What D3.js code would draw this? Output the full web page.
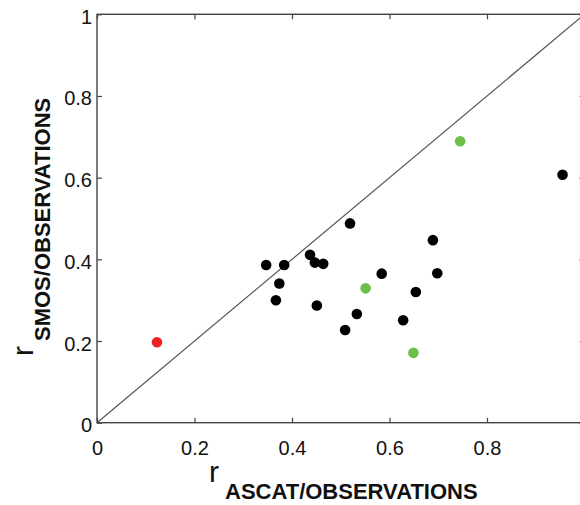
<!DOCTYPE html>
<html>
<head>
<meta charset="utf-8">
<script src="https://cdn.jsdelivr.net/npm/d3@7"></script>
<style>
  html, body { margin: 0; padding: 0; background: #fff; }
  svg { display: block; font-family: "Liberation Sans", Arial, sans-serif; }
</style>
</head>
<body>
<svg id="chart" width="580" height="505"></svg>
<script>
// ---- data ----
const blackX = [0.955, 0.519, 0.347, 0.384, 0.437, 0.447, 0.464, 0.374, 0.367, 0.451, 0.689, 0.698, 0.584, 0.654, 0.533, 0.509, 0.628];
const blackY = [0.607, 0.488, 0.386, 0.386, 0.411, 0.392, 0.389, 0.341, 0.300, 0.287, 0.447, 0.366, 0.365, 0.320, 0.266, 0.227, 0.251];
const greenX = [0.745, 0.551, 0.649];
const greenY = [0.689, 0.329, 0.171];
const redX = [0.123];
const redY = [0.197];
const xTicks = [0, 0.2, 0.4, 0.6, 0.8];
const yTicks = [0, 0.2, 0.4, 0.6, 0.8, 1];
const identityLine = [0, 1];

const svg = d3.select("#chart");
const mLeft = 97, mRight = 584.5, mTop = 14.3, mBottom = 422.7;

const x = d3.scaleLinear().domain([0, 1]).range([mLeft, mRight]);
const y = d3.scaleLinear().domain([0, 1]).range([mBottom, mTop]);

// box
svg.append("rect")
  .attr("x", mLeft).attr("y", mTop)
  .attr("width", mRight - mLeft).attr("height", mBottom - mTop)
  .attr("fill", "none").attr("stroke", "#444").attr("stroke-width", 1.4);

// axes with inward ticks
const fmt = d => d3.format("~g")(d);
const gx = svg.append("g").attr("transform", `translate(0,${mBottom})`)
  .call(d3.axisBottom(x).tickValues(xTicks).tickFormat(fmt).tickSize(-5).tickPadding(18));
const gxt = svg.append("g").attr("transform", `translate(0,${mTop})`)
  .call(d3.axisTop(x).tickValues(xTicks).tickFormat("").tickSize(-5));
const gy = svg.append("g").attr("transform", `translate(${mLeft},0)`)
  .call(d3.axisLeft(y).tickValues(yTicks).tickFormat(fmt).tickSize(-5).tickPadding(5));
const gyr = svg.append("g").attr("transform", `translate(${mRight},0)`)
  .call(d3.axisRight(y).tickValues(yTicks).tickFormat("").tickSize(-5));

[gx, gxt, gy, gyr].forEach(g => {
  g.select(".domain").remove();
  g.selectAll(".tick line").attr("stroke", "#444").attr("stroke-width", 1.2);
  g.selectAll(".tick text").attr("fill", "#111")
    .style("font-family", "'Liberation Sans', Arial, sans-serif").style("font-size", "20px");
});
gy.selectAll(".tick text").attr("dy", "0.45em");

// identity line
svg.append("line")
  .attr("x1", x(identityLine[0])).attr("y1", y(identityLine[0]))
  .attr("x2", x(identityLine[1])).attr("y2", y(identityLine[1]))
  .attr("stroke", "#555").attr("stroke-width", 1.2);

// points
function drawPoints(xs, ys, color) {
  svg.append("g").selectAll("circle")
    .data(xs.map((v, i) => [v, ys[i]]))
    .join("circle")
    .attr("cx", d => x(d[0])).attr("cy", d => y(d[1]))
    .attr("r", 5.3).attr("fill", color);
}
drawPoints(blackX, blackY, "#000");
drawPoints(greenX, greenY, "#6cc04a");
drawPoints(redX, redY, "#ee2222");

// x title
const xt = svg.append("text").attr("x", 209).attr("y", 482).attr("fill", "#111");
xt.append("tspan").text("r").style("font-size", "30px");
xt.append("tspan").attr("dx", 6).attr("dy", 17).text("ASCAT/OBSERVATIONS")
  .style("font-size", "22px").style("font-weight", "bold");

// y title
const yt = svg.append("text").attr("transform", "translate(33,356) rotate(-90)").attr("fill", "#111");
yt.append("tspan").text("r").style("font-size", "30px");
yt.append("tspan").attr("dx", 5).attr("dy", 17).text("SMOS/OBSERVATIONS")
  .style("font-size", "22px").style("font-weight", "bold");
</script>
</body>
</html>
